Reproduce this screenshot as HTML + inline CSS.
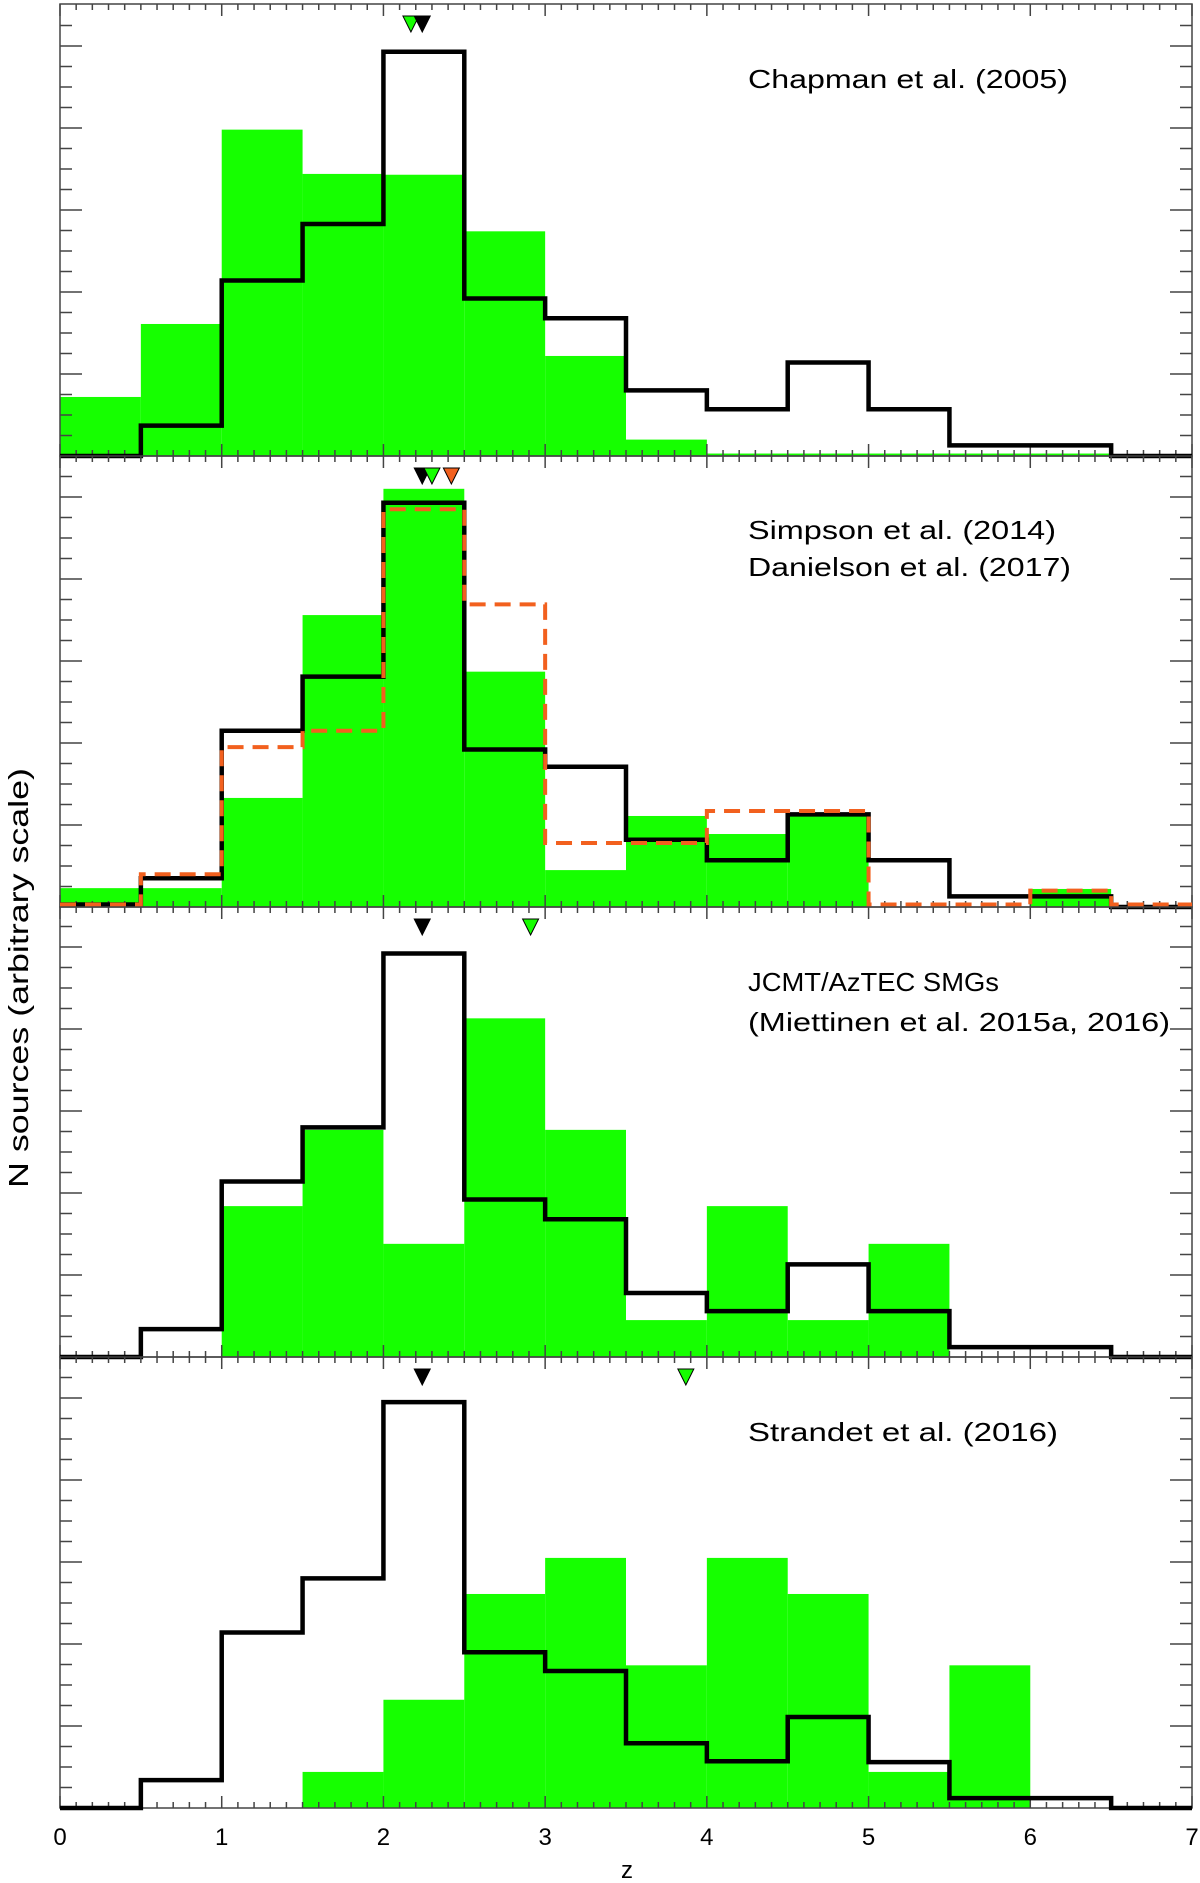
<!DOCTYPE html>
<html><head><meta charset="utf-8"><style>
body{margin:0;background:#fff}
svg{display:block}
text{font-family:"Liberation Sans",sans-serif;fill:#000}
</style></head><body>
<svg id="chart" width="1200" height="1883" viewBox="0 0 1200 1883" xmlns="http://www.w3.org/2000/svg">
<text transform="translate(28,978) rotate(-90)" text-anchor="middle" font-size="28" textLength="420" lengthAdjust="spacingAndGlyphs">N sources (arbitrary scale)</text>
<text x="627" y="1878" text-anchor="middle" font-size="24">z</text>
</svg>
<script>
const binEdges = [0,0.5,1,1.5,2,2.5,3,3.5,4,4.5,5,5.5,6,6.5,7];
const xTicks = [0,1,2,3,4,5,6,7];
const p1Green = [0.72,1.61,3.98,3.44,3.43,2.74,1.22,0.2,0.03,0.03,0.03,0.03,0.03,0];
const p1Black = [0,0.37,2.14,2.83,4.93,1.92,1.68,0.8,0.57,1.14,0.57,0.13,0.13,0];
const p2Green = [0.23,0.23,1.33,3.56,5.1,2.87,0.45,1.11,0.89,1.14,0,0,0.22,0];
const p2Black = [0.03,0.35,2.15,2.81,4.93,1.92,1.71,0.82,0.57,1.13,0.57,0.13,0.13,0];
const p2Orange = [0.03,0.4,1.95,2.15,4.85,3.69,0.78,0.78,1.17,1.17,0.03,0.03,0.2,0.03];
const p3Green = [0,0,1.84,2.77,1.38,4.13,2.77,0.45,1.84,0.45,1.38,0,0,0];
const p3Black = [0,0.34,2.14,2.8,4.92,1.92,1.68,0.78,0.56,1.13,0.56,0.12,0.12,0];
const p4Green = [0,0,0,0.44,1.32,2.61,3.05,1.74,3.05,2.61,0.44,1.74,0,0];
const p4Black = [0,0.34,2.14,2.8,4.95,1.9,1.67,0.79,0.57,1.11,0.56,0.12,0.12,0];
const p1Markers = [2.17,2.24];
const p2Markers = [2.24,2.3,2.42];
const p3Markers = [2.24,2.91];
const p4Markers = [2.24,3.87];
const panelLabels = [["Chapman et al. (2005)"],["Simpson et al. (2014)","Danielson et al. (2017)"],["JCMT/AzTEC SMGs","(Miettinen et al. 2015a, 2016)"],["Strandet et al. (2016)"]];
const labelLengths = [[320],[308,323],[251,422],[310]];

const NS="http://www.w3.org/2000/svg";
const svg=document.getElementById('chart');
const X0=60,X1=1192;
const xs=z=>X0+(X1-X0)*z/7;
const panelTops=[4,456,907,1357];
const panelBottoms=[456,907,1357,1808];
const UNIT=82;
function el(tag,attrs,parent){const e=document.createElementNS(NS,tag);for(const k in attrs)e.setAttribute(k,attrs[k]);(parent||svg).appendChild(e);return e;}
const GREEN="#16ff00",ORANGE="#f2601e";
const panels=[
 {g:p1Green,b:p1Black,o:null,m:p1Markers,mc:[GREEN,"#000"]},
 {g:p2Green,b:p2Black,o:p2Orange,m:p2Markers,mc:["#000",GREEN,ORANGE]},
 {g:p3Green,b:p3Black,o:null,m:p3Markers,mc:["#000",GREEN]},
 {g:p4Green,b:p4Black,o:null,m:p4Markers,mc:["#000",GREEN]}
];
function stepPath(vals,ys){let d="";for(let i=0;i<vals.length;i++){const y=ys(vals[i]);d+=(i===0?"M":"L")+xs(binEdges[i])+","+y+"L"+xs(binEdges[i+1])+","+y;}return d;}
panels.forEach((p,pi)=>{
 const T=panelTops[pi],B=panelBottoms[pi];
 const ys=v=>B-v*UNIT;
 const g=el('g',{});
 
 
 p.g.forEach((v,i)=>{if(v<=0)return;const r=el('rect',{x:xs(binEdges[i]),y:ys(v),width:xs(binEdges[i+1])-xs(binEdges[i]),height:v*UNIT,fill:GREEN},g);
  
  });
 const ax=el('g',{stroke:"#444","stroke-width":1.5},g);
 
 
 for(let k=0;k<=70;k++){const x=xs(k/10);const L=k%10===0?12:6;el('line',{x1:x,y1:B,x2:x,y2:B-L},ax);el('line',{x1:x,y1:T,x2:x,y2:T+L},ax);}
 for(let k=1;B-k*UNIT/4>T+2;k++){const y=B-k*UNIT/4;const L=k%4===0?22:12;el('line',{x1:X0,y1:y,x2:X0+L,y2:y},ax);el('line',{x1:X1,y1:y,x2:X1-L,y2:y},ax);}
 el('rect',{x:X0,y:T,width:X1-X0,height:B-T,fill:"none"},ax);
 const bl=el('path',{d:stepPath(p.b,ys),fill:"none",stroke:"#000","stroke-width":4.5},g);
 
 
 if(p.o){const ol=el('path',{d:stepPath(p.o,ys),fill:"none",stroke:ORANGE,"stroke-width":4,"stroke-dasharray":"16,9"},g);
  
  }
 p.m.forEach((z,i)=>{const x=xs(z),y=T+12;const t=el('polygon',{points:(x-8)+","+y+" "+(x+8)+","+y+" "+x+","+(y+16),fill:p.mc[i],stroke:"#000","stroke-width":1},g);
  
  });
 panelLabels[pi].forEach((s,li)=>{const ty=[[88],[539,576],[991,1031],[1441]][pi][li];
  const tx=el('text',{x:748,y:ty,"font-size":26,textLength:labelLengths[pi][li],lengthAdjust:"spacingAndGlyphs"},g);tx.textContent=s;
  
  });
});
xTicks.forEach(t=>{const tx=el('text',{x:xs(t),y:1845,"text-anchor":"middle","font-size":24});tx.textContent=t;
 
 });
</script>
</body></html>
